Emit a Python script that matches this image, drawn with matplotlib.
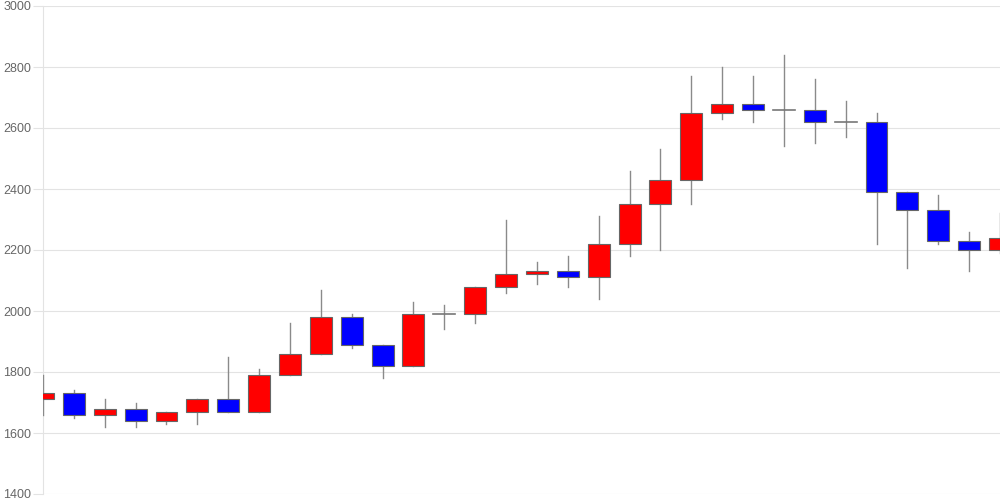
import numpy as np
import matplotlib
matplotlib.use("Agg")
import matplotlib.pyplot as plt
from matplotlib.patches import Rectangle

# daily OHLC values
opens  = [1710, 1730, 1660, 1680, 1640, 1670, 1710, 1670, 1790, 1860,
          1980, 1890, 1820, 1990, 1990, 2080, 2120, 2130, 2110, 2220,
          2350, 2430, 2650, 2680, 2660, 2660, 2620, 2620, 2390, 2330,
          2230, 2200]
highs  = [1790, 1740, 1710, 1700, 1670, 1710, 1850, 1810, 1960, 2070,
          1990, 1890, 2030, 2020, 2080, 2300, 2160, 2180, 2310, 2460,
          2530, 2770, 2800, 2770, 2840, 2760, 2690, 2650, 2390, 2380,
          2260, 2320]
lows   = [1660, 1650, 1620, 1620, 1630, 1630, 1670, 1670, 1790, 1860,
          1880, 1780, 1820, 1940, 1960, 2060, 2090, 2080, 2040, 2180,
          2200, 2350, 2630, 2620, 2540, 2550, 2570, 2220, 2140, 2220,
          2130, 2190]
closes = [1730, 1660, 1680, 1640, 1670, 1710, 1670, 1790, 1860, 1980,
          1890, 1820, 1990, 1990, 2080, 2120, 2130, 2110, 2220, 2350,
          2430, 2650, 2680, 2660, 2660, 2620, 2620, 2390, 2330, 2230,
          2200, 2240]

y_ticks = [1400, 1600, 1800, 2000, 2200, 2400, 2600, 2800, 3000]


def main():
    plt.rcParams['font.family'] = ['Liberation Sans', 'DejaVu Sans']

    fig = plt.figure(figsize=(10, 5), dpi=100)
    ax = fig.add_axes([0.043, 0.012, 0.957, 0.976])

    grid_col = "#e3e3e3"
    width = 0.71
    for i, (o, h, l, c) in enumerate(zip(opens, highs, lows, closes)):
        # wick above the axis spine so the first one shows on the axis
        ax.plot([i, i], [l, h], color="#8a8a8a", lw=1.0, zorder=2.6)
        lo, hi = min(o, c), max(o, c)
        face = "#ff0000" if c >= o else "#0000ff"
        if hi - lo == 0:
            ax.plot([i - width / 2, i + width / 2], [lo, lo], color="#777777", lw=1.2, zorder=3)
        else:
            ax.add_patch(Rectangle((i - width / 2, lo), width, hi - lo,
                                   facecolor=face, edgecolor="#666666", lw=0.8, zorder=3))

    ax.set_xlim(0, len(opens) - 1)
    ax.set_ylim(1400, 3000)
    ax.set_yticks(y_ticks)
    ax.set_yticklabels([str(t) for t in y_ticks])
    ax.set_xticks([])
    ax.grid(axis='y', color=grid_col, lw=0.8, zorder=0)
    ax.set_axisbelow(True)

    for s in ["top", "right", "bottom"]:
        ax.spines[s].set_visible(False)
    ax.spines["left"].set_color(grid_col)
    ax.spines["left"].set_linewidth(0.8)
    ax.tick_params(axis='y', length=7.5, color=grid_col, width=0.8,
                   labelsize=9, labelcolor="#666666", pad=1)

    fig.savefig("out.png", dpi=100)
    plt.close()


if __name__ == "__main__":
    main()
